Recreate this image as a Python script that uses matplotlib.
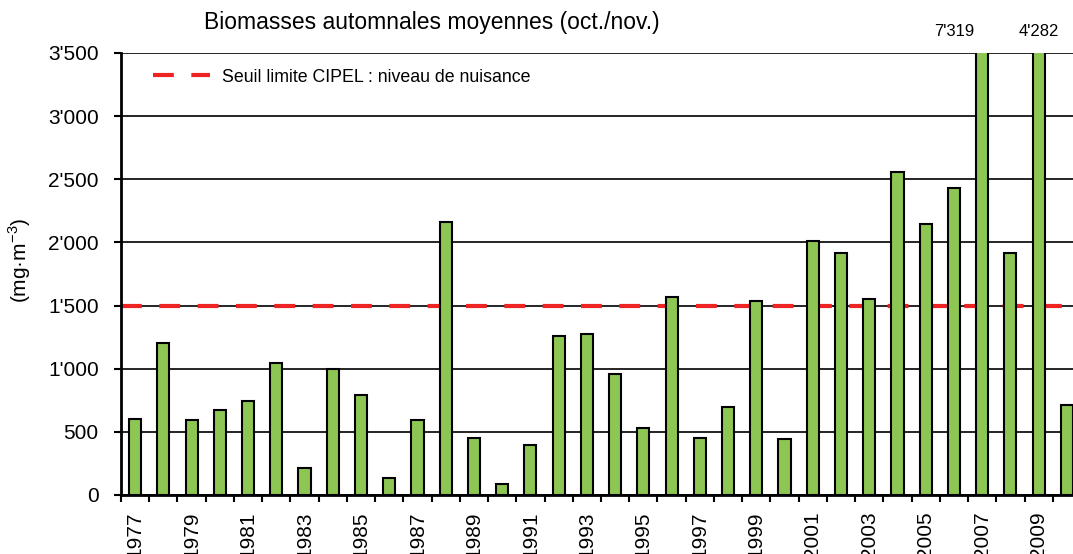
import numpy as np
import matplotlib
matplotlib.use("Agg")
import matplotlib.pyplot as plt
from matplotlib.ticker import FuncFormatter

plt.rcParams['font.family'] = ['Liberation Sans', 'DejaVu Sans']

# Data
years = list(range(1977, 2011))
biomass = [605, 1200, 590, 670, 745, 1045, 210, 1000, 790, 135,
           590, 2160, 455, 90, 395, 1260, 1275, 955, 530, 1565,
           455, 700, 1535, 440, 2010, 1915, 1550, 2555, 2145, 2430,
           7319, 1915, 4282, 715]
seuil = 1500
y_max = 3500
title = "Biomasses automnales moyennes (oct./nov.)"
legend_label = "Seuil limite CIPEL : niveau de nuisance"
# the off-scale value labels are not all centred on their bar in the source
label_shift = {2007: -1.0, 2009: 0.0}


def apostrophe(v, pos):
    v = int(round(v))
    return f"{v:,}".replace(",", "'")


fig = plt.figure(figsize=(10.73, 5.54), dpi=100)
ax = fig.add_axes([121 / 1073, 1 - 495 / 554, 960 / 1073, 442 / 554])

x = np.arange(len(years))
ax.bar(x, biomass, width=0.43, color='#8DC653', edgecolor='black',
       linewidth=1.5, zorder=3)

# threshold line (behind the bars)
line, = ax.plot([-0.5, len(years) - 0.5], [seuil, seuil], color='#EE2424',
                linewidth=3, dashes=(5, 4.2), zorder=2, label=legend_label)

ax.set_xlim(-0.5, len(years) - 0.5)
ax.set_ylim(0, y_max)
ax.set_yticks(np.arange(0, y_max + 1, 500))
ax.yaxis.set_major_formatter(FuncFormatter(apostrophe))
ax.grid(axis='y', color='black', linewidth=1.2, zorder=0)
ax.set_axisbelow(True)

# x ticks at category boundaries, labels on odd years
ax.set_xticks(np.arange(-0.5, len(years), 1.0))
ax.set_xticklabels([])
ax.set_xticks(x[::2], minor=True)
ax.set_xticklabels([str(y) for y in years[::2]], minor=True, rotation=90,
                   fontsize=15)
ax.tick_params(axis='x', which='minor', length=0, pad=12)
ax.tick_params(axis='x', which='major', length=5, width=1.5, direction='out')
ax.tick_params(axis='y', length=5, width=1.5, direction='out', labelsize=15,
               pad=11)

for s in ['top', 'right']:
    ax.spines[s].set_visible(False)
for s in ['left', 'bottom']:
    ax.spines[s].set_linewidth(2)
    ax.spines[s].set_zorder(5)

# values of bars that go off the scale
for xi, yr, v in zip(x, years, biomass):
    if v > y_max:
        ax.annotate(apostrophe(v, None), xy=(xi + label_shift.get(yr, 0), y_max),
                    xytext=(0, 10), textcoords='offset points',
                    ha='center', va='bottom', fontsize=12,
                    annotation_clip=False)

fig.text(432 / 1073, 1 - 22 / 554, title, ha='center', va='center',
         fontsize=16.5)
fig.text(20 / 1073, 1 - 260 / 554, "(mg·m$^{\\mathregular{-3}}$)",
         rotation=90, ha='center', va='center', fontsize=15)

ax.legend(handles=[line], loc='center left', frameon=False,
          bbox_to_anchor=(153 / 1073, 1 - 77 / 554),
          bbox_transform=fig.transFigure, fontsize=12.8, handlelength=3.2,
          handletextpad=0.7, borderpad=0, borderaxespad=0)

fig.savefig("out.png", dpi=100)
